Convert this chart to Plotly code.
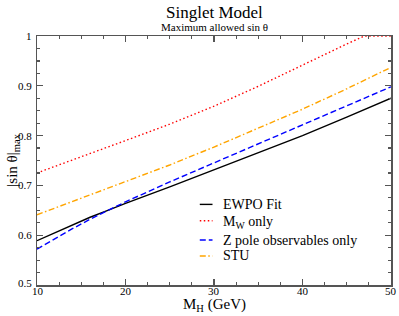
import plotly.graph_objects as go

m_h = [10, 12, 14, 16, 18, 20, 25, 30, 35, 40, 45, 50]
ewpo_fit = [0.589, 0.605, 0.621, 0.636, 0.650, 0.664, 0.697, 0.731, 0.765, 0.800, 0.837, 0.875]
z_pole = [0.572, 0.593, 0.613, 0.632, 0.650, 0.667, 0.707, 0.745, 0.783, 0.821, 0.859, 0.898]

m_h_mw = [10, 15, 20, 25, 30, 35, 40, 45, 47, 50]
mw_only = [0.725, 0.757, 0.790, 0.823, 0.859, 0.899, 0.942, 0.984, 1.0, 1.0]

m_h_stu = [10, 15, 20, 25, 30, 35, 40, 45, 50]
stu = [0.641, 0.674, 0.707, 0.741, 0.777, 0.815, 0.853, 0.894, 0.937]

x_ticks = [10, 20, 30, 40, 50]
x_tick_labels = ["10", "20", "30", "40", "50"]
y_ticks = [0.5, 0.6, 0.7, 0.8, 0.9, 1.0]
y_tick_labels = ["0.5", "0.6", "0.7", "0.8", "0.9", "1"]

series_names = ["EWPO Fit", "M<sub>W</sub> only", "Z pole observables only", "STU"]
series_colors = ["black", "#ff0000", "#0000ff", "#ffa500"]
series_dashes = ["solid", "1.5px,2.5px", "6px,3px", "6px,2.5px,1.5px,2.5px"]

FONT = "Liberation Serif"

fig = go.Figure()
xs = [m_h, m_h_mw, m_h, m_h_stu]
ys = [ewpo_fit, mw_only, z_pole, stu]
for x, y, n, c, d in zip(xs, ys, series_names, series_colors, series_dashes):
    fig.add_trace(go.Scatter(x=x, y=y, mode="lines", name=n, showlegend=False,
                             hoverinfo="skip",
                             line=dict(color=c, width=1.4, dash=d)))

axis_common = dict(showgrid=False, zeroline=False, showline=True, linecolor="#555555",
                   linewidth=1.5, mirror="allticks", ticks="inside", ticklen=6,
                   tickcolor="#555555", tickwidth=1.2, showticklabels=False)

fig.update_xaxes(range=[10, 50], tickvals=x_ticks,
                 minor=dict(dtick=2.5, ticks="inside", ticklen=3, tickcolor="#555555", tickwidth=1.2),
                 **axis_common)
fig.update_yaxes(range=[0.5, 1.0], tickvals=y_ticks,
                 minor=dict(dtick=0.025, ticks="inside", ticklen=3, tickcolor="#555555", tickwidth=1.2),
                 **axis_common)

# manual legend (plot area: x 37..393 px, y 35.7..285 px)
PL, PW, PB, PH = 37.0, 356.0, 285.0, 249.3
def px2x(px):
    return (px - PL) / PW
def py2y(py):
    return (PB - py) / PH

legend_line_y = [204.3, 220.7, 240.0, 256.0]
legend_text_y = [204.5, 222.0, 240.0, 255.5]
shapes = []
annotations = []
for n, c, d, ly, ty in zip(series_names, series_colors, series_dashes, legend_line_y, legend_text_y):
    shapes.append(dict(type="line", xref="paper", yref="paper",
                       x0=px2x(200.7), x1=px2x(213.5), y0=py2y(ly), y1=py2y(ly),
                       line=dict(color=c, width=1.4, dash=d)))
    annotations.append(dict(text=n, xref="paper", yref="paper", x=px2x(222), y=py2y(ty),
                            xanchor="left", yanchor="middle", showarrow=False,
                            font=dict(family=FONT, size=14, color="black")))

# tick labels placed at the tick values, tight against the axes
for v, t in zip(x_ticks, x_tick_labels):
    annotations.append(dict(text=t, xref="x", yref="paper", x=v, y=0, yshift=-6,
                            xshift=1 if v == x_ticks[0] else 0,
                            xanchor="center", yanchor="middle", showarrow=False,
                            font=dict(family=FONT, size=11, color="black")))
for v, t in zip(y_ticks, y_tick_labels):
    annotations.append(dict(text=t, xref="paper", yref="y", x=0, y=v, xshift=-3,
                            yshift=2 if v == y_ticks[0] else 0,
                            xanchor="right", yanchor="middle", showarrow=False,
                            font=dict(family=FONT, size=11, color="black")))

annotations += [
    dict(text="Singlet Model", xref="paper", yref="paper", x=0.5, y=py2y(12),
         showarrow=False, font=dict(family=FONT, size=17), yanchor="middle"),
    dict(text="Maximum allowed sin θ", xref="paper", yref="paper", x=0.5, y=py2y(27),
         showarrow=False, font=dict(family=FONT, size=11), yanchor="middle"),
    dict(text="|sin θ|<sub>max</sub>", xref="paper", yref="paper", x=px2x(12),
         y=0.5, textangle=-90, showarrow=False, font=dict(family=FONT, size=15),
         xanchor="center", yanchor="middle"),
    dict(text="M<sub>H</sub> (GeV)", xref="paper", yref="paper", x=0.5, y=py2y(305),
         showarrow=False, font=dict(family=FONT, size=15),
         xanchor="center", yanchor="middle"),
]

fig.update_layout(
    width=399, height=316,
    margin=dict(l=37, r=6, t=35.7, b=31),
    paper_bgcolor="white", plot_bgcolor="white",
    font=dict(family=FONT, color="black"),
    showlegend=False,
    hovermode=False,
    shapes=shapes,
    annotations=annotations,
)

fig.write_html("out.html", config={"displayModeBar": False, "staticPlot": True},
               post_script="document.body.style.margin='0';document.body.style.padding='0';")
